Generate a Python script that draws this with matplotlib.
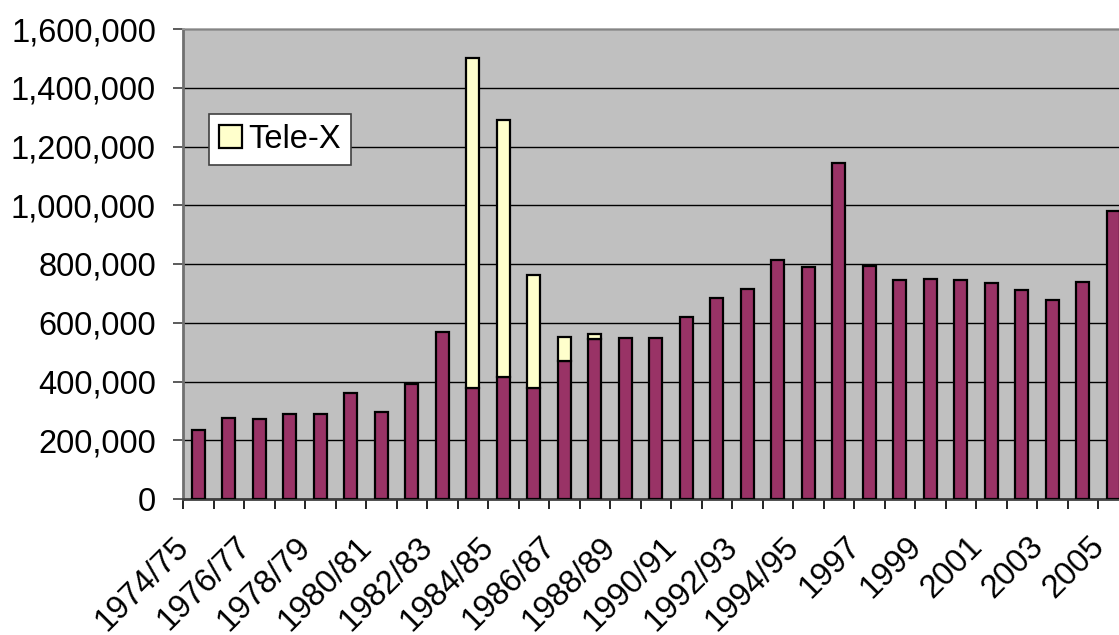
import numpy as np
import matplotlib
matplotlib.use("Agg")
import matplotlib.pyplot as plt
from matplotlib.transforms import ScaledTranslation

plt.rcParams["font.family"] = ["Liberation Sans", "DejaVu Sans"]

# fiscal years (1995/96 was an 18-month budget year)
YEARS = ["1974/75", "1975/76", "1976/77", "1977/78", "1978/79", "1979/80",
         "1980/81", "1981/82", "1982/83", "1983/84", "1984/85", "1985/86",
         "1986/87", "1987/88", "1988/89", "1989/90", "1990/91", "1991/92",
         "1992/93", "1993/94", "1994/95", "1995/96", "1997", "1998", "1999",
         "2000", "2001", "2002", "2003", "2004", "2005"]

# base funding per year
BASE = [235000, 277000, 272000, 291000, 291000, 360000, 295000, 391000,
        567000, 379000, 416000, 379000, 471000, 544000, 547000, 547000,
        618000, 685000, 715000, 814000, 791000, 1144000, 793000, 744000,
        750000, 745000, 734000, 710000, 679000, 738000, 980000]

# Tele-X satellite component stacked on top
TELE_X = [0, 0, 0, 0, 0, 0, 0, 0, 0, 1123000, 874000, 383000, 82000, 19000,
          0, 0, 0, 0, 0, 0, 0, 0, 0, 0, 0, 0, 0, 0, 0, 0, 0]

MAROON = "#993366"
CREAM = "#FFFFCC"
PLOT_BG = "#C0C0C0"
FS = 23.5

fig = plt.figure(figsize=(11.19, 6.35), dpi=100)
ax = fig.add_axes([183 / 1119, 136 / 635, 945.5 / 1119, 470 / 635])
ax.set_facecolor(PLOT_BG)

x = np.arange(len(YEARS))
base = np.array(BASE)
tele = np.array(TELE_X)
w = 0.42
ax.bar(x, base, width=w, color=MAROON, edgecolor="black", linewidth=1.6, zorder=3)
m = tele > 0
ax.bar(x[m], tele[m], bottom=base[m], width=w, color=CREAM, edgecolor="black",
       linewidth=1.6, zorder=3, label="Tele-X")

ax.set_xlim(-0.5, len(YEARS) - 0.5)
ax.set_ylim(0, 1600000)
ax.set_yticks(np.arange(0, 1600001, 200000))
ax.set_yticklabels([f"{v:,}" for v in range(0, 1600001, 200000)])
ax.yaxis.grid(True, color="black", linewidth=1.0, zorder=1)
ax.set_axisbelow(True)

# tick marks between categories, labels on every second category
ax.set_xticks(np.arange(-0.5, len(YEARS), 1.0), minor=True)
ax.set_xticks(x[::2])
ax.set_xticklabels(YEARS[::2], rotation=45, ha="right", va="center",
                   rotation_mode="anchor")
ax.tick_params(axis="x", which="major", length=0, pad=31, labelsize=FS)
ax.tick_params(axis="x", which="minor", length=7.5, width=1.2, color="black")
ax.tick_params(axis="y", length=7.5, width=1.2, color="#404040", pad=12,
               labelsize=FS)
shift = ScaledTranslation(-10 / 72, 0, fig.dpi_scale_trans)
for lab in ax.get_xticklabels():
    lab.set_transform(lab.get_transform() + shift)

for side in ("top", "right"):
    ax.spines[side].set_color("#A0A0A0")
    ax.spines[side].set_linewidth(1.2)
ax.spines["left"].set_color("#707070")
ax.spines["left"].set_linewidth(2)
ax.spines["bottom"].set_color("#404040")
ax.spines["bottom"].set_linewidth(2)

leg = ax.legend(loc="upper left", bbox_to_anchor=(209 / 1119, 1 - 114 / 635),
                bbox_transform=fig.transFigure, fontsize=FS, frameon=True,
                fancybox=False, framealpha=1, edgecolor="#404040",
                borderpad=0.3, handlelength=0.7, handleheight=0.7,
                handletextpad=0.2, borderaxespad=0)
leg.get_frame().set_linewidth(1.2)

fig.savefig("out.png", dpi=100)
